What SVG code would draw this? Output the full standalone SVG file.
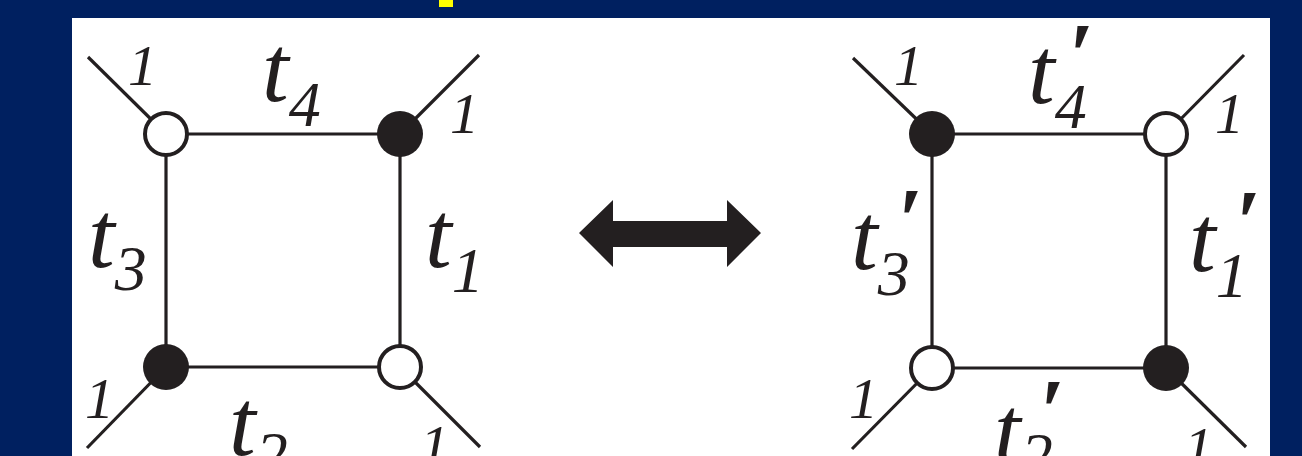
<svg xmlns="http://www.w3.org/2000/svg" width="1302" height="456" viewBox="0 0 1302 456">
<rect x="0" y="0" width="1302" height="456" fill="#002060"/>
<rect x="439" y="0" width="14" height="7" fill="#ffff00"/>
<rect x="72" y="18" width="1198" height="438" fill="#ffffff"/>
<g id="connectors" stroke="#231f20" stroke-width="3.2" fill="none">
<line x1="166" y1="134" x2="400" y2="134"/>
<line x1="166" y1="134" x2="166" y2="367"/>
<line x1="400" y1="134" x2="400" y2="367"/>
<line x1="166" y1="367" x2="400" y2="367"/>
<line x1="88" y1="57" x2="166" y2="134"/>
<line x1="479" y1="55" x2="400" y2="134"/>
<line x1="87" y1="448" x2="166" y2="367"/>
<line x1="480" y1="447" x2="400" y2="367"/>
<line x1="932" y1="134" x2="1166" y2="134"/>
<line x1="932" y1="134" x2="932" y2="368"/>
<line x1="1166" y1="134" x2="1166" y2="368"/>
<line x1="932" y1="368" x2="1166" y2="368"/>
<line x1="853" y1="58" x2="932" y2="134"/>
<line x1="1244" y1="55" x2="1166" y2="134"/>
<line x1="852" y1="449" x2="932" y2="368"/>
<line x1="1246" y1="447" x2="1166" y2="368"/>
</g>
<g id="left-tl"><circle cx="166" cy="134" r="21" fill="#ffffff" stroke="#231f20" stroke-width="4"/></g>
<g id="left-tr"><circle cx="400" cy="134" r="23" fill="#231f20"/></g>
<g id="left-bl"><circle cx="166" cy="367" r="23" fill="#231f20"/></g>
<g id="left-br"><circle cx="400" cy="367" r="21" fill="#ffffff" stroke="#231f20" stroke-width="4"/></g>
<g id="right-tl"><circle cx="932" cy="134" r="23" fill="#231f20"/></g>
<g id="right-tr"><circle cx="1166" cy="134" r="21" fill="#ffffff" stroke="#231f20" stroke-width="4"/></g>
<g id="right-bl"><circle cx="932" cy="368" r="21" fill="#ffffff" stroke="#231f20" stroke-width="4"/></g>
<g id="right-br"><circle cx="1166" cy="368" r="23" fill="#231f20"/></g>
<g id="arrow"><polygon fill="#231f20" points="579,233 613,200 613,221 727,221 727,200 761,233 727,267 727,247 613,247 613,267"/></g>
<g id="left-labels" fill="#231f20">
<text style="font-family:serif;font-style:italic;font-size:58px" x="128" y="85">1</text>
<text style="font-family:serif;font-style:italic;font-size:58px" x="450" y="133">1</text>
<text style="font-family:serif;font-style:italic;font-size:58px" x="85" y="418">1</text>
<text style="font-family:serif;font-style:italic;font-size:58px" x="420" y="465">1</text>
<text style="font-family:serif;font-style:italic;font-size:96px" x="262" y="101">t<tspan style="font-size:64px" dy="25">4</tspan></text>
<text style="font-family:serif;font-style:italic;font-size:96px" x="88" y="267">t<tspan style="font-size:64px" dy="23">3</tspan></text>
<text style="font-family:serif;font-style:italic;font-size:96px" x="425" y="267">t<tspan style="font-size:64px" dy="25">1</tspan></text>
<text style="font-family:serif;font-style:italic;font-size:96px" x="229" y="455">t<tspan style="font-size:64px" dy="21">2</tspan></text>
</g>
<g id="right-labels" fill="#231f20">
<text style="font-family:serif;font-style:italic;font-size:58px" x="894" y="85">1</text>
<text style="font-family:serif;font-style:italic;font-size:58px" x="1215" y="133">1</text>
<text style="font-family:serif;font-style:italic;font-size:58px" x="849" y="418">1</text>
<text style="font-family:serif;font-style:italic;font-size:58px" x="1184" y="467">1</text>
<text style="font-family:serif;font-style:italic;font-size:96px" x="1028" y="103">t<tspan style="font-size:64px" dy="25">4</tspan></text>
<text style="font-family:serif;font-style:italic;font-weight:bold;font-size:90px" x="1068" y="86">′</text>
<text style="font-family:serif;font-style:italic;font-size:96px" x="851" y="269">t<tspan style="font-size:64px" dy="26">3</tspan></text>
<text style="font-family:serif;font-style:italic;font-weight:bold;font-size:90px" x="897" y="251">′</text>
<text style="font-family:serif;font-style:italic;font-size:96px" x="1189" y="271">t<tspan style="font-size:64px" dy="26">1</tspan></text>
<text style="font-family:serif;font-style:italic;font-weight:bold;font-size:90px" x="1235" y="253">′</text>
<text style="font-family:serif;font-style:italic;font-size:96px" x="994" y="462">t<tspan style="font-size:64px" dy="15">2</tspan></text>
<text style="font-family:serif;font-style:italic;font-weight:bold;font-size:90px" x="1039" y="442">′</text>
</g>
</svg>
